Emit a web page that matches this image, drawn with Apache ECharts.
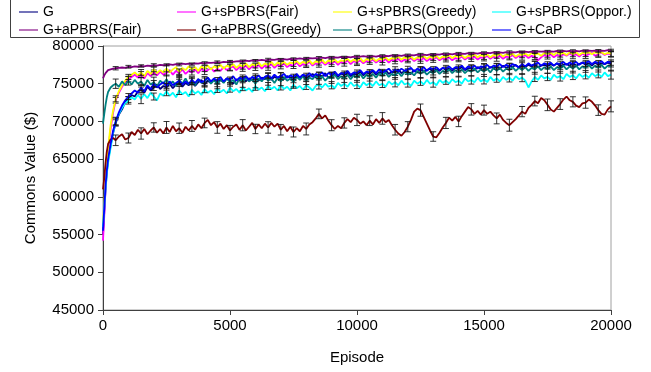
<!DOCTYPE html>
<html>
<head>
<meta charset="utf-8">
<script src="https://cdn.jsdelivr.net/npm/echarts@6/dist/echarts.min.js"></script>
<style>
  html, body { margin: 0; padding: 0; background: #fff; }
  #chart { width: 651px; height: 372px; }
</style>
</head>
<body>
<div id="chart"></div>
<script>
// Episode positions of the sampled points: dense during the initial climb,
// then every 125 episodes (rows below hold 1000 episodes each)
const episodes = [0, 50, 100, 150, 200, 300, 400,
  500, 625, 750, 875, 1000, 1125, 1250, 1375,
  1500, 1625, 1750, 1875, 2000, 2125, 2250, 2375,
  2500, 2625, 2750, 2875, 3000, 3125, 3250, 3375,
  3500, 3625, 3750, 3875, 4000, 4125, 4250, 4375,
  4500, 4625, 4750, 4875, 5000, 5125, 5250, 5375,
  5500, 5625, 5750, 5875, 6000, 6125, 6250, 6375,
  6500, 6625, 6750, 6875, 7000, 7125, 7250, 7375,
  7500, 7625, 7750, 7875, 8000, 8125, 8250, 8375,
  8500, 8625, 8750, 8875, 9000, 9125, 9250, 9375,
  9500, 9625, 9750, 9875, 10000, 10125, 10250, 10375,
  10500, 10625, 10750, 10875, 11000, 11125, 11250, 11375,
  11500, 11625, 11750, 11875, 12000, 12125, 12250, 12375,
  12500, 12625, 12750, 12875, 13000, 13125, 13250, 13375,
  13500, 13625, 13750, 13875, 14000, 14125, 14250, 14375,
  14500, 14625, 14750, 14875, 15000, 15125, 15250, 15375,
  15500, 15625, 15750, 15875, 16000, 16125, 16250, 16375,
  16500, 16625, 16750, 16875, 17000, 17125, 17250, 17375,
  17500, 17625, 17750, 17875, 18000, 18125, 18250, 18375,
  18500, 18625, 18750, 18875, 19000, 19125, 19250, 19375,
  19500, 19625, 19750, 19875, 20000];

const seriesNames = ['G', 'G+sPBRS(Fair)', 'G+sPBRS(Greedy)', 'G+sPBRS(Oppor.)',
  'G+aPBRS(Fair)', 'G+aPBRS(Greedy)', 'G+aPBRS(Oppor.)', 'G+CaP'];

// Commons value ($) per sampled episode for each agent configuration
const valuesG = [55000, 58000, 61000, 63200, 64800, 66800, 68500,
  69800, 70900, 71600, 72600, 72900, 73500, 73300, 74000,
  74200, 73800, 74600, 74100, 74500, 74900, 74300, 74700,
  74500, 75000, 74400, 74900, 75200, 74600, 75100, 74800,
  75300, 74700, 75200, 75500, 74900, 75400, 75100, 75600,
  75000, 75500, 75200, 75700, 75300, 75000, 75600, 75400,
  75800, 75300, 75700, 75500, 75900, 75400, 75800, 75600,
  76000, 75500, 75900, 75700, 76100, 75600, 76000, 75800,
  75500, 76100, 75800, 76200, 75700, 76000, 76300, 75800,
  76200, 75900, 76400, 75800, 76100, 76300, 75900, 76400,
  76100, 76500, 76000, 76300, 76200, 76600, 76100, 76500,
  76300, 76700, 76200, 76500, 76400, 76800, 76300, 76600,
  76500, 76900, 76400, 76700, 76600, 76300, 76800, 76500,
  76900, 76600, 76800, 77000, 76500, 76900, 76700, 77100,
  76800, 77000, 76700, 77100, 76900, 77200, 76800, 77000,
  77100, 76800, 77200, 77000, 77300, 76900, 77200, 77100,
  77300, 77000, 77400, 77100, 77300, 77200, 77500, 77100,
  77400, 77200, 77500, 77300, 77600, 77200, 77400, 77500,
  77300, 77600, 77400, 77700, 77300, 77500, 77600, 77400,
  77700, 77400, 77600, 77800, 77500, 77700, 77400, 77800,
  77500, 77700, 77600, 77800, 77600];

const valuesSFair = [54200, 57500, 61000, 64000, 66000, 69000, 71200,
  72800, 73800, 74600, 75200, 75600, 75900, 76200, 75800,
  76200, 75700, 76400, 76000, 76500, 76100, 76600, 76200,
  76400, 76800, 76200, 76700, 76400, 76900, 76300, 76700,
  76500, 76900, 76400, 77000, 76600, 76800, 77100, 76600,
  77000, 76700, 77200, 76800, 77100, 77300, 76800, 77200,
  77000, 77400, 76900, 77300, 77100, 77500, 77000, 77400,
  77200, 77600, 77100, 77500, 77300, 77700, 77200, 77500,
  77400, 77800, 77300, 77600, 77500, 77900, 77400, 77700,
  77600, 77900, 77500, 77800, 77600, 78000, 77500, 77900,
  77700, 78100, 77600, 78000, 77800, 78100, 77700, 78000,
  77900, 78200, 77800, 78100, 77900, 78300, 77800, 78200,
  78000, 78300, 77900, 78200, 78100, 78400, 78000, 78300,
  78100, 78400, 78000, 78300, 78200, 78500, 78100, 78400,
  78200, 78500, 78100, 78400, 78300, 78600, 78200, 78500,
  78300, 78600, 78200, 78500, 78400, 78700, 78300, 78600,
  78400, 78700, 78300, 78600, 78500, 78800, 78400, 78700,
  78500, 78800, 78400, 78700, 78600, 78100, 78500, 78800,
  78600, 78900, 78500, 78800, 78600, 78900, 78700, 79000,
  78700, 78900, 78600, 79000, 78700, 78900, 79100, 78700,
  78900, 79100, 78800, 79000, 78900];

const valuesSGreedy = [56500, 59000, 62000, 64500, 66500, 69500, 71500,
  73000, 74000, 74800, 75400, 75900, 76200, 76500, 76100,
  76500, 76000, 76700, 76300, 76900, 76400, 76800, 76500,
  77000, 76500, 76900, 77200, 76600, 77100, 76800, 77300,
  76900, 77200, 76700, 77300, 77000, 77400, 76900, 77300,
  77100, 77500, 77000, 77400, 77200, 77600, 77100, 77500,
  77300, 77700, 77200, 77600, 77400, 77800, 77300, 77700,
  77500, 77900, 77400, 77800, 77600, 77900, 77500, 77800,
  77700, 78000, 77600, 77900, 77700, 78100, 77600, 78000,
  77800, 78200, 77700, 78100, 77900, 78200, 77800, 78100,
  78000, 78300, 77900, 78200, 78000, 78400, 77900, 78300,
  78100, 78400, 78000, 78300, 78200, 78500, 78100, 78400,
  78300, 78600, 78200, 78500, 78300, 78600, 78200, 78500,
  78400, 78700, 78300, 78600, 78400, 78700, 78300, 78600,
  78500, 78800, 78400, 78700, 78500, 78800, 78400, 78700,
  78600, 78900, 78500, 78800, 78600, 78900, 78500, 78800,
  78700, 79000, 78600, 78900, 78700, 79000, 78600, 78900,
  78800, 79000, 78700, 79100, 78800, 79000, 78700, 79100,
  78900, 79100, 78800, 79200, 78900, 79100, 78800, 79200,
  78900, 79200, 78800, 79100, 79000, 79200, 78900, 79200,
  79000, 79200, 78900, 79100, 79000];

const valuesSOppor = [56000, 58500, 61000, 63000, 64500, 66500, 68500,
  70000, 71000, 71800, 72400, 72800, 73200, 72900, 73500,
  73000, 73600, 73100, 73800, 73300, 72800, 73700, 73400,
  74000, 73400, 73800, 73200, 74100, 73600, 73900, 73300,
  74200, 73700, 74000, 73500, 74300, 73800, 74100, 73600,
  74400, 73900, 74200, 73700, 74500, 74000, 74300, 73800,
  74600, 74100, 74400, 73900, 74700, 74200, 74500, 74000,
  74700, 74300, 74600, 74100, 74800, 74300, 74600, 74100,
  74900, 74400, 74700, 74200, 74800, 74500, 74100, 74700,
  74900, 74500, 75000, 74600, 74800, 74400, 75100, 74700,
  75000, 74600, 75200, 74700, 74900, 74500, 75200, 74800,
  75100, 74700, 75300, 74800, 75000, 74600, 75300, 74900,
  75200, 74800, 75400, 74900, 75100, 74700, 75400, 75000,
  75300, 74900, 75500, 75000, 75200, 74800, 75500, 75100,
  75400, 75000, 75600, 75200, 75400, 75000, 75700, 75300,
  75500, 75200, 75800, 75300, 75600, 75200, 75900, 75400,
  75700, 75300, 75900, 75500, 75800, 75400, 76000, 75600,
  75800, 75400, 74500, 75300, 75900, 75500, 76100, 75700,
  75900, 75500, 76200, 75800, 76000, 75600, 76300, 75900,
  76100, 75700, 76300, 75900, 76200, 75800, 76400, 76000,
  76300, 75900, 76500, 76000, 76200];

const valuesAFair = [75700, 76100, 76400, 76600, 76800, 76900, 77000,
  77050, 77100, 77150, 77100, 77250, 77200, 77300, 77250,
  77350, 77300, 77400, 77350, 77450, 77400, 77500, 77450,
  77500, 77550, 77500, 77600, 77550, 77650, 77600, 77650,
  77600, 77700, 77650, 77750, 77700, 77800, 77750, 77800,
  77850, 77800, 77900, 77850, 77950, 77900, 77950, 78000,
  77950, 78050, 78000, 78100, 78050, 78100, 78150, 78100,
  78150, 78200, 78150, 78250, 78200, 78250, 78200, 78300,
  78250, 78300, 78350, 78300, 78350, 78400, 78350, 78400,
  78400, 78450, 78400, 78500, 78450, 78500, 78450, 78550,
  78500, 78550, 78500, 78600, 78550, 78600, 78650, 78600,
  78600, 78650, 78600, 78700, 78650, 78700, 78650, 78750,
  78700, 78750, 78700, 78800, 78750, 78800, 78750, 78850,
  78800, 78850, 78800, 78900, 78850, 78900, 78850, 78950,
  78900, 78950, 78900, 79000, 78950, 79000, 78950, 79050,
  79000, 79050, 79000, 79100, 79050, 79100, 79050, 79150,
  79100, 79150, 79100, 79200, 79150, 79200, 79150, 79250,
  79200, 79250, 79200, 79250, 79200, 79300, 79250, 79300,
  79250, 79300, 79250, 79350, 79300, 79350, 79300, 79350,
  79300, 79350, 79300, 79400, 79350, 79400, 79350, 79400,
  79350, 79400, 79350, 79450, 79400];

const valuesAGreedy = [61000, 62500, 64500, 66000, 67000, 67600, 67800,
  67500, 68000, 68300, 67600, 67800, 68600, 68200, 68900,
  68400, 69000, 68300, 68800, 69200, 68500, 69000, 68400,
  69200, 68600, 69400, 68700, 69100, 68500, 69300, 68800,
  69400, 68900, 69600, 69100, 69800, 70200, 69500, 69900,
  69200, 69700, 69000, 69500, 68800, 69300, 69600, 68900,
  69500, 68800, 69300, 69800, 69000, 69600, 69100, 69700,
  69200, 69800, 69300, 69700, 68900, 69400, 68700, 69300,
  68600, 69100, 68700, 69400, 69000, 69600, 69900, 70400,
  71000, 70400, 70800, 70100, 69500, 69000, 69400, 69100,
  69800, 70300, 69900, 70500, 70200, 69700, 70000, 69500,
  70100, 69600, 70300, 69800, 70400, 69900, 70200, 69500,
  68900, 68400, 68100, 68600, 69300, 70200, 71300, 71700,
  71500, 70600, 69700, 68800, 68000, 67900, 68500, 69200,
  69800, 70500, 70100, 70600, 70000, 70700, 71300, 71900,
  71600, 71000, 71400, 70900, 71500, 71000, 71300, 70800,
  70400, 70900, 70200, 69800, 69500, 69900, 70300, 70800,
  71300, 71000, 71800, 72200, 72700, 72400, 73100, 72800,
  72200, 71600, 71300, 71800, 72300, 72900, 73300, 72800,
  72600, 72100, 71900, 72400, 72500, 72900, 72600, 72100,
  71500, 71000, 70900, 71600, 72000];

const valuesAOppor = [69700, 71000, 72200, 73200, 73900, 74500, 74800,
  75000, 74600, 75300, 74800, 75400, 74900, 75500, 75000,
  75300, 74700, 75500, 74900, 75200, 74600, 75400, 75000,
  75600, 74900, 75300, 74700, 75500, 75000, 75700, 74900,
  75400, 74800, 75600, 75100, 75300, 75800, 75000, 75500,
  74900, 75600, 75100, 75700, 75200, 75500, 74900, 75700,
  75200, 75800, 75300, 75600, 75000, 75700, 75300, 75900,
  75400, 75700, 75100, 75800, 75300, 75900, 75400, 75700,
  75200, 75900, 75500, 76000, 75400, 75800, 75600, 76100,
  75500, 76000, 75400, 75900, 75700, 76200, 75600, 76000,
  75700, 76200, 75600, 76100, 75800, 76300, 75700, 76200,
  75900, 76300, 75800, 76400, 76000, 76500, 75900, 76300,
  76100, 76500, 76000, 76600, 76200, 76500, 76100, 76700,
  76300, 76700, 76200, 76600, 76400, 76800, 76300, 76700,
  76500, 76900, 76400, 76800, 76500, 76900, 76400, 76800,
  76600, 77000, 76500, 76900, 76600, 77000, 76500, 77100,
  76700, 77100, 76600, 77000, 76800, 77200, 76700, 77100,
  76800, 77200, 76700, 77100, 76900, 77300, 76800, 77200,
  76900, 77300, 76800, 77200, 77000, 77400, 76900, 77300,
  77000, 77400, 76900, 77300, 77100, 77500, 77000, 77400,
  77100, 77500, 77000, 77400, 77300];

const valuesCaP = [55500, 58500, 61500, 63500, 65000, 67000, 68800,
  70000, 71200, 72100, 72800, 73300, 73700, 74100, 73800,
  74500, 74000, 74800, 74300, 75000, 74500, 74900, 75200,
  74700, 75300, 74800, 75100, 75400, 74900, 75300, 75000,
  75500, 75100, 75600, 75200, 75400, 75800, 75300, 75700,
  75400, 75900, 75300, 75700, 75500, 76000, 75400, 75800,
  75600, 76000, 75500, 75900, 75700, 76100, 75600, 75900,
  76100, 75700, 76200, 75800, 76000, 76300, 75800, 76100,
  75900, 76300, 75800, 76200, 76000, 76400, 75900, 76300,
  76100, 76500, 76000, 76400, 76200, 76600, 76100, 76400,
  76300, 76700, 76200, 76500, 76400, 76800, 76300, 76600,
  76500, 76800, 76400, 76900, 76500, 76700, 77000, 76500,
  76900, 76600, 77000, 76700, 76900, 77100, 76600, 77000,
  76800, 77200, 76700, 77100, 76900, 77200, 76800, 77100,
  77000, 77300, 76900, 77200, 77100, 77400, 76900, 77300,
  77100, 77400, 77000, 77300, 77200, 77500, 77100, 77400,
  77300, 77600, 77200, 77500, 77300, 77600, 77400, 77200,
  77600, 77300, 77700, 77400, 77600, 77800, 77400, 77700,
  77500, 77800, 77400, 77700, 77600, 77900, 77500, 77800,
  77600, 77900, 77500, 77800, 77700, 78000, 77600, 77900,
  77700, 78000, 77600, 77900, 77800];

// Episodes carrying an error bar, and the half-widths of those bars ($)
const errorEpisodes = [500, 1000, 1500, 2000, 2500, 3000, 3500, 4000, 4500, 5000,
  5500, 6000, 6500, 7000, 7500, 8000, 8500, 9000, 9500, 10000,
  10500, 11000, 11500, 12000, 12500, 13000, 13500, 14000, 14500, 15000,
  15500, 16000, 16500, 17000, 17500, 18000, 18500, 19000, 19500, 20000];

const errG = [420, 380, 360, 400, 350, 390, 370, 340, 400, 380,
  360, 410, 350, 390, 370, 420, 340, 380, 400, 360,
  390, 350, 410, 370, 380, 340, 420, 360, 390, 370,
  400, 350, 380, 410, 360, 390, 340, 400, 370, 380];
const errSFair = [380, 340, 410, 320, 370, 430, 350, 390, 310, 400,
  360, 340, 420, 330, 380, 350, 410, 320, 370, 390,
  340, 420, 360, 330, 400, 370, 310, 390, 350, 380,
  420, 340, 370, 400, 330, 360, 390, 350, 410, 370];
const errSGreedy = [400, 340, 380, 310, 430, 360, 320, 390, 350, 420,
  370, 310, 400, 340, 410, 360, 330, 380, 350, 400,
  320, 390, 360, 340, 420, 310, 370, 400, 350, 380,
  330, 410, 360, 340, 390, 370, 320, 400, 350, 380];
const errSOppor = [550, 500, 640, 460, 590, 530, 650, 490, 560, 620,
  520, 570, 460, 630, 510, 560, 600, 480, 640, 540,
  580, 500, 620, 550, 520, 660, 480, 590, 550, 630,
  510, 570, 530, 610, 490, 650, 550, 560, 520, 590];
const errAFair = [220, 180, 160, 200, 140, 180, 150, 210, 170, 140,
  190, 160, 220, 150, 180, 140, 200, 170, 140, 210,
  160, 190, 150, 180, 220, 140, 170, 200, 160, 180,
  150, 210, 140, 190, 170, 160, 200, 140, 180, 170];
const errAGreedy = [700, 660, 750, 620, 790, 690, 720, 640, 770, 670,
  740, 620, 760, 700, 660, 790, 640, 730, 680, 750,
  650, 770, 700, 670, 810, 630, 740, 690, 760, 660,
  720, 790, 680, 640, 770, 710, 670, 750, 700, 730];
const errAOppor = [620, 580, 530, 670, 550, 600, 500, 640, 570, 520,
  680, 540, 600, 560, 620, 510, 580, 660, 530, 610,
  550, 590, 510, 650, 570, 620, 540, 600, 580, 640,
  520, 600, 560, 630, 530, 610, 570, 590, 550, 620];
const errCaP = [440, 400, 370, 420, 350, 410, 380, 360, 420, 390,
  340, 400, 370, 430, 360, 390, 410, 350, 380, 420,
  370, 400, 350, 410, 380, 360, 430, 390, 370, 400,
  350, 420, 380, 360, 410, 390, 370, 400, 380, 360];

// Axis ranges and tick spacing
const xTicks = { min: 0, max: 20000, step: 5000 };
const yTicks = { min: 45000, max: 80000, step: 5000 };

const allValues = [valuesG, valuesSFair, valuesSGreedy, valuesSOppor,
  valuesAFair, valuesAGreedy, valuesAOppor, valuesCaP];
const allErrors = [errG, errSFair, errSGreedy, errSOppor,
  errAFair, errAGreedy, errAOppor, errCaP];
const colors = ['#000080', '#FF00FF', '#FFFF00', '#00FFFF',
  '#800080', '#800000', '#008080', '#0000FF'];

const FONT = 'Liberation Sans, Arial, sans-serif';

// Vertical error bar with short caps at both ends
function errorBarRender(params, api) {
  const x = api.value(0), y = api.value(1), e = api.value(2);
  const top = api.coord([x, y + e]);
  const bot = api.coord([x, y - e]);
  const c = 3;
  const style = { stroke: '#111', lineWidth: 1, opacity: 0.85 };
  return {
    type: 'group',
    children: [
      { type: 'line', shape: { x1: top[0], y1: top[1], x2: bot[0], y2: bot[1] }, style },
      { type: 'line', shape: { x1: top[0] - c, y1: top[1], x2: top[0] + c, y2: top[1] }, style },
      { type: 'line', shape: { x1: bot[0] - c, y1: bot[1], x2: bot[0] + c, y2: bot[1] }, style }
    ]
  };
}

const series = [];
seriesNames.forEach((name, i) => {
  const vals = allValues[i];
  series.push({
    name,
    type: 'line',
    data: episodes.map((ep, k) => [ep, vals[k]]),
    showSymbol: false,
    color: colors[i],
    lineStyle: { width: 1.8, color: colors[i] },
    z: 2 + i * 0.01
  });
  series.push({
    name,
    type: 'custom',
    renderItem: errorBarRender,
    data: errorEpisodes.map((ep, k) => [ep, vals[episodes.indexOf(ep)], allErrors[i][k]]),
    z: 2 + i * 0.01 + 0.005,
    silent: true
  });
});

// Legend laid out as four columns of two entries
const legendColumns = [
  { left: 14, data: [seriesNames[0], seriesNames[4]] },
  { left: 172, data: [seriesNames[1], seriesNames[5]] },
  { left: 328, data: [seriesNames[2], seriesNames[6]] },
  { left: 487, data: [seriesNames[3], seriesNames[7]] }
];

const plainNumber = v => String(v);

const option = {
  animation: false,
  backgroundColor: '#fff',
  grid: {
    left: 103, right: 40, top: 46, height: 264,
    show: true, borderColor: '#a0a0a0', borderWidth: 1, backgroundColor: '#fff'
  },
  legend: legendColumns.map(col => ({
    left: col.left,
    top: -2,
    orient: 'vertical',
    data: col.data,
    icon: 'rect',
    itemWidth: 19,
    itemHeight: 2,
    itemGap: 0,
    selectedMode: false,
    itemStyle: { opacity: 0.55 },
    textStyle: { fontFamily: FONT, fontSize: 14, color: '#000', lineHeight: 18 }
  })),
  graphic: [{
    type: 'rect',
    shape: { x: 10.5, y: -0.5, width: 629, height: 38 },
    style: { fill: 'none', stroke: '#404040', lineWidth: 1 },
    silent: true
  }],
  xAxis: {
    type: 'value',
    min: xTicks.min, max: xTicks.max, interval: xTicks.step,
    name: 'Episode',
    nameLocation: 'middle',
    nameGap: 40,
    nameTextStyle: { fontFamily: FONT, fontSize: 15, color: '#000' },
    axisLine: { show: true, onZero: false, lineStyle: { color: '#404040', width: 1 } },
    axisTick: { show: true, length: 5, lineStyle: { color: '#404040' } },
    axisLabel: { fontFamily: FONT, fontSize: 15, color: '#000', margin: 8, formatter: plainNumber },
    splitLine: { show: false }
  },
  yAxis: {
    type: 'value',
    min: yTicks.min, max: yTicks.max, interval: yTicks.step,
    name: 'Commons Value ($)',
    nameLocation: 'middle',
    nameGap: 65,
    nameTextStyle: { fontFamily: FONT, fontSize: 15, color: '#000' },
    axisLine: { show: true, lineStyle: { color: '#404040', width: 1 } },
    axisTick: { show: true, length: 5, lineStyle: { color: '#404040' } },
    axisLabel: { fontFamily: FONT, fontSize: 15, color: '#000', margin: 9, formatter: plainNumber },
    splitLine: { show: false }
  },
  series
};

const chart = echarts.init(document.getElementById('chart'), null, { renderer: 'canvas' });
chart.setOption(option);
</script>
</body>
</html>
